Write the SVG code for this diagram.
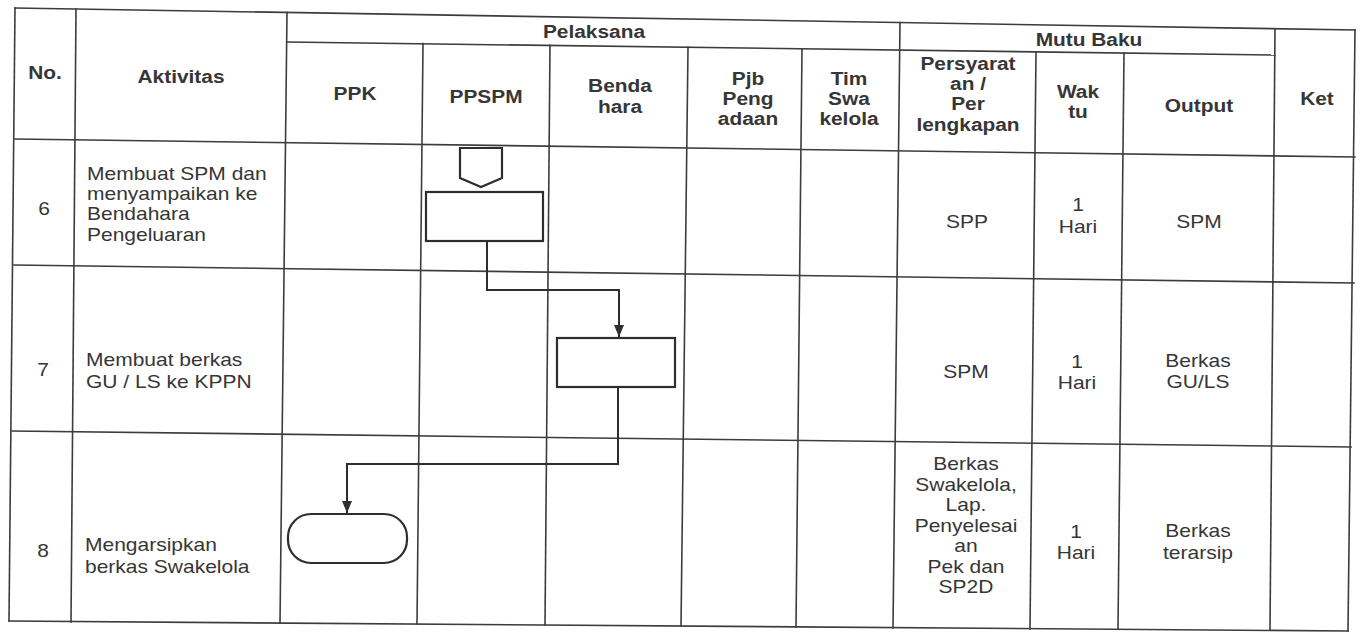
<svg xmlns="http://www.w3.org/2000/svg" width="1364" height="634" viewBox="0 0 1364 634">
<style>
.grid line{stroke:#3c3c3c;stroke-width:1.6;stroke-linecap:square}
.shape{fill:none;stroke:#2e2e2e;stroke-width:2.2}
.conn{fill:none;stroke:#2e2e2e;stroke-width:2;marker-end:url(#arr)}
text{font-family:"Liberation Sans",Arial,sans-serif;fill:#363636}
.h{font-size:18px;font-weight:bold;text-anchor:middle}
.c{font-size:17.8px;text-anchor:middle}
.l{font-size:17.8px}
</style>
<defs>
<marker id="arr" markerUnits="userSpaceOnUse" markerWidth="12" markerHeight="10" refX="12" refY="5" orient="auto" viewBox="0 0 12 10">
<path d="M0,0 L12,5 L0,10 z" fill="#2e2e2e"/>
</marker>
</defs>
<rect width="1364" height="634" fill="#ffffff"/>
<g id="grid" class="grid">
<line x1="15" y1="8" x2="1355" y2="30"/>
<line x1="287" y1="42" x2="1275" y2="55"/>
<line x1="15" y1="139" x2="1355" y2="157"/>
<line x1="14" y1="265" x2="1354" y2="283"/>
<line x1="12" y1="431" x2="1351" y2="447"/>
<line x1="9" y1="621" x2="1348" y2="631"/>
<line x1="15" y1="8" x2="9" y2="621"/>
<line x1="76" y1="9" x2="71" y2="622"/>
<line x1="287" y1="12.5" x2="280" y2="623"/>
<line x1="423" y1="43.6" x2="417" y2="624"/>
<line x1="550" y1="45.4" x2="545" y2="625"/>
<line x1="688" y1="47.2" x2="681" y2="626"/>
<line x1="802" y1="48.7" x2="796" y2="627"/>
<line x1="900" y1="22.5" x2="893" y2="628"/>
<line x1="1036" y1="52" x2="1030" y2="629"/>
<line x1="1124" y1="53" x2="1118" y2="629"/>
<line x1="1275" y1="28.7" x2="1270" y2="630"/>
<line x1="1355" y1="30" x2="1348" y2="631"/>
</g>
<g id="header">
<text class="h" transform="translate(45 79) scale(1.16 1)">No.</text>
<text class="h" transform="translate(181 83) scale(1.16 1)">Aktivitas</text>
<text class="h" transform="translate(594 38) scale(1.16 1)">Pelaksana</text>
<text class="h" transform="translate(1089 46) scale(1.16 1)">Mutu Baku</text>
<text class="h" transform="translate(355 100) scale(1.16 1)">PPK</text>
<text class="h" transform="translate(486 103) scale(1.16 1)">PPSPM</text>
<text class="h" transform="translate(620 92) scale(1.16 1)">Benda</text>
<text class="h" transform="translate(620 113) scale(1.16 1)">hara</text>
<text class="h" transform="translate(748 85) scale(1.16 1)">Pjb</text>
<text class="h" transform="translate(748 105) scale(1.16 1)">Peng</text>
<text class="h" transform="translate(748 125) scale(1.16 1)">adaan</text>
<text class="h" transform="translate(849 85) scale(1.16 1)">Tim</text>
<text class="h" transform="translate(849 105) scale(1.16 1)">Swa</text>
<text class="h" transform="translate(849 125) scale(1.16 1)">kelola</text>
<text class="h" transform="translate(968 70) scale(1.16 1)">Persyarat</text>
<text class="h" transform="translate(968 90) scale(1.16 1)">an /</text>
<text class="h" transform="translate(968 110) scale(1.16 1)">Per</text>
<text class="h" transform="translate(968 131) scale(1.16 1)">lengkapan</text>
<text class="h" transform="translate(1078 98) scale(1.16 1)">Wak</text>
<text class="h" transform="translate(1078 118) scale(1.16 1)">tu</text>
<text class="h" transform="translate(1199 112) scale(1.16 1)">Output</text>
<text class="h" transform="translate(1317 105) scale(1.16 1)">Ket</text>
</g>
<g id="row6">
<text class="c" transform="translate(44 215) scale(1.18 1)">6</text>
<text class="l" transform="translate(87 180) scale(1.18 1)">Membuat SPM dan</text>
<text class="l" transform="translate(87 200) scale(1.18 1)">menyampaikan ke</text>
<text class="l" transform="translate(87 220) scale(1.18 1)">Bendahara</text>
<text class="l" transform="translate(87 241) scale(1.18 1)">Pengeluaran</text>
<text class="c" transform="translate(967 228) scale(1.18 1)">SPP</text>
<text class="c" transform="translate(1078 211) scale(1.18 1)">1</text>
<text class="c" transform="translate(1078 233) scale(1.18 1)">Hari</text>
<text class="c" transform="translate(1199 228) scale(1.18 1)">SPM</text>
</g>
<g id="row7">
<text class="c" transform="translate(43 376) scale(1.18 1)">7</text>
<text class="l" transform="translate(86 366) scale(1.18 1)">Membuat berkas</text>
<text class="l" transform="translate(86 388) scale(1.18 1)">GU / LS ke KPPN</text>
<text class="c" transform="translate(966 378) scale(1.18 1)">SPM</text>
<text class="c" transform="translate(1077 368) scale(1.18 1)">1</text>
<text class="c" transform="translate(1077 389) scale(1.18 1)">Hari</text>
<text class="c" transform="translate(1198 367) scale(1.18 1)">Berkas</text>
<text class="c" transform="translate(1198 388) scale(1.18 1)">GU/LS</text>
</g>
<g id="row8">
<text class="c" transform="translate(43 557) scale(1.18 1)">8</text>
<text class="l" transform="translate(85 551) scale(1.18 1)">Mengarsipkan</text>
<text class="l" transform="translate(85 573) scale(1.18 1)">berkas Swakelola</text>
<text class="c" transform="translate(966 470) scale(1.18 1)">Berkas</text>
<text class="c" transform="translate(966 491) scale(1.18 1)">Swakelola,</text>
<text class="c" transform="translate(966 511) scale(1.18 1)">Lap.</text>
<text class="c" transform="translate(966 532) scale(1.18 1)">Penyelesai</text>
<text class="c" transform="translate(966 552) scale(1.18 1)">an</text>
<text class="c" transform="translate(966 573) scale(1.18 1)">Pek dan</text>
<text class="c" transform="translate(966 593) scale(1.18 1)">SP2D</text>
<text class="c" transform="translate(1076 538) scale(1.18 1)">1</text>
<text class="c" transform="translate(1076 559) scale(1.18 1)">Hari</text>
<text class="c" transform="translate(1198 537) scale(1.18 1)">Berkas</text>
<text class="c" transform="translate(1198 559) scale(1.18 1)">terarsip</text>
</g>
<g id="node-offpage"><path class="shape" d="M460,148 L502,148 L502,178 L481,187 L460,178 Z"/></g>
<g id="node-spm"><rect class="shape" x="426" y="192" width="117" height="49"/></g>
<g id="node-berkas"><rect class="shape" x="557" y="338" width="118" height="49"/></g>
<g id="node-arsip"><rect class="shape" x="288" y="514" width="119" height="49" rx="23" ry="23"/></g>
<g id="connectors">
<path class="conn" d="M487,241 L487,290 L619,290 L619,337"/>
<path class="conn" d="M618,387 L618,464 L347,464 L347,513"/>
</g>
</svg>
